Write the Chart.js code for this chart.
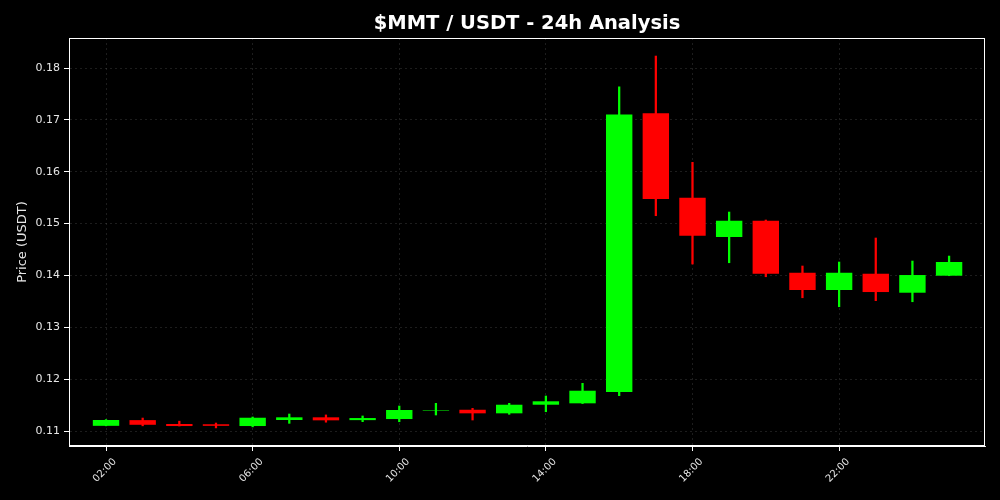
<!DOCTYPE html>
<html>
<head>
<meta charset="utf-8">
<title>$MMT / USDT - 24h Analysis</title>
<script src="https://cdn.jsdelivr.net/npm/chart.js@4.4.1/dist/chart.umd.min.js"></script>
<style>
    html, body { margin: 0; padding: 0; background: #000; }
    #wrap { width: 1000px; height: 500px; }
</style>
</head>
<body>
<div id="wrap"><canvas id="candleChart" width="1000" height="500"></canvas></div>
<script>
// Hourly candles, x = hour of day (24 = 00:00, 25 = 01:00 next day)
const hours = [2, 3, 4, 5, 6, 7, 8, 9, 10, 11, 12, 13, 14, 15, 16, 17, 18, 19, 20, 21, 22, 23, 24, 25];
const opens = [0.1110, 0.1121, 0.11135, 0.1113, 0.11096, 0.11212, 0.11264, 0.1121, 0.11231, 0.1139, 0.1141, 0.11341,
    0.11507, 0.11534, 0.11752, 0.17126, 0.15499, 0.14741, 0.15055, 0.14052, 0.13719, 0.14033, 0.13667, 0.13995];
const highs = [0.1122, 0.1125, 0.1119, 0.11154, 0.1127, 0.11328, 0.1131, 0.1129, 0.11482, 0.11534, 0.11438, 0.11534,
    0.11675, 0.1192, 0.17639, 0.18231, 0.16181, 0.15223, 0.15069, 0.14182, 0.14259, 0.14722, 0.14278, 0.14374];
const lows = [0.1110, 0.1110, 0.11096, 0.1106, 0.1108, 0.11148, 0.1117, 0.1118, 0.11179, 0.11309, 0.11212, 0.11322,
    0.11372, 0.1153, 0.11681, 0.15152, 0.1422, 0.14245, 0.13975, 0.1357, 0.13397, 0.13513, 0.13493, 0.13995];
const closes = [0.11212, 0.1112, 0.11096, 0.1110, 0.11256, 0.11264, 0.11206, 0.1125, 0.11405, 0.1140, 0.11341, 0.11507,
    0.11573, 0.11777, 0.17103, 0.15474, 0.14766, 0.15055, 0.14033, 0.13719, 0.14052, 0.1368, 0.14008, 0.14259];

// Tick labels
const xTickHours = [2, 6, 10, 14, 18, 22];
const yTicks = [0.11, 0.12, 0.13, 0.14, 0.15, 0.16, 0.17, 0.18];

const chartTitle = '$MMT / USDT - 24h Analysis';

const UP = '#00ff00';
const DOWN = '#ff0000';
const candleColors = hours.map((h, i) => closes[i] >= opens[i] ? UP : DOWN);

const wickData = hours.map((h, i) => ({ x: h, y: [lows[i], highs[i]] }));
const bodyData = hours.map((h, i) => ({ x: h, y: [opens[i], closes[i]] }));

// Black background, white frame round the plot area, title centred over the plot
const framePlugin = {
    id: 'frame',
    beforeDraw(chart) {
        const c = chart.ctx;
        c.save();
        c.fillStyle = '#000';
        c.fillRect(0, 0, chart.width, chart.height);
        c.restore();
    },
    afterDatasetsDraw(chart) {
        const a = chart.chartArea;
        const c = chart.ctx;
        c.save();
        c.strokeStyle = '#ffffff';
        c.lineWidth = 1;
        c.strokeRect(Math.round(a.left) + 0.5, Math.round(a.top) + 0.5,
            Math.round(a.right - a.left) - 1, Math.round(a.bottom - a.top) - 1);
        // title
        c.fillStyle = '#ffffff';
        c.font = 'bold 19.5px "DejaVu Sans"';
        c.textAlign = 'center';
        c.textBaseline = 'middle';
        c.fillText(chartTitle, (a.left + a.right) / 2, 24);
        c.restore();
    }
};

const gridStyle = {
    display: true,
    offset: false,
    color: 'rgba(120, 120, 120, 0.3)',
    lineWidth: 0.8,
    tickColor: '#ffffff',
    tickLength: 5,
    tickWidth: 1,
    tickBorderDash: []
};

new Chart(document.getElementById('candleChart'), {
    type: 'bar',
    data: {
        datasets: [
            {
                label: 'Wick',
                data: wickData,
                backgroundColor: candleColors,
                barThickness: 1.6,
                grouped: false,
                order: 2
            },
            {
                label: 'Body',
                data: bodyData,
                backgroundColor: candleColors,
                barPercentage: 0.9,
                categoryPercentage: 0.8,
                grouped: false,
                order: 1
            }
        ]
    },
    plugins: [framePlugin],
    options: {
        responsive: false,
        animation: false,
        layout: {
            padding: { left: 0, right: 15, top: 38, bottom: 0 }
        },
        scales: {
            x: {
                type: 'linear',
                min: 0.99,
                max: 25.98,
                offset: false,
                afterBuildTicks: (axis) => {
                    axis.ticks = xTickHours.map(v => ({ value: v }));
                },
                afterFit: (scale) => { scale.height = 54; },
                ticks: {
                    color: '#e6e6e6',
                    font: { family: 'DejaVu Sans', size: 10 },
                    minRotation: 45,
                    maxRotation: 45,
                    labelOffset: 9,
                    padding: 5,
                    includeBounds: false,
                    callback: (v) => String(v % 24).padStart(2, '0') + ':00'
                },
                grid: gridStyle,
                border: { display: true, color: '#ffffff', dash: [2, 3] }
            },
            y: {
                min: 0.10711,
                max: 0.18579,
                afterBuildTicks: (axis) => {
                    axis.ticks = yTicks.map(v => ({ value: v }));
                },
                afterFit: (scale) => { scale.width = 69; },
                ticks: {
                    color: '#e6e6e6',
                    font: { family: 'DejaVu Sans', size: 11 },
                    padding: 4,
                    includeBounds: false,
                    callback: (v) => v.toFixed(2)
                },
                title: {
                    display: true,
                    text: 'Price (USDT)',
                    color: '#e6e6e6',
                    font: { family: 'DejaVu Sans', size: 13 },
                    padding: { top: 15, bottom: 4 }
                },
                grid: gridStyle,
                border: { display: true, color: '#ffffff', dash: [2, 3] }
            }
        },
        plugins: {
            legend: { display: false },
            tooltip: { enabled: false },
            title: { display: false }
        }
    }
});
</script>
</body>
</html>
